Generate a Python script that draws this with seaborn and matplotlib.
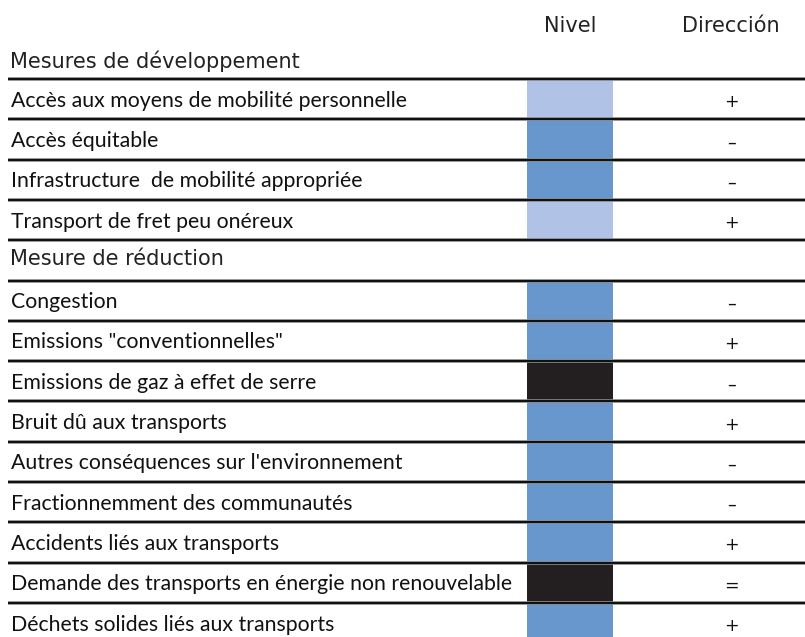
import matplotlib
matplotlib.use('Agg')
import matplotlib.pyplot as plt
import seaborn as sns

sns.set_theme(style='white')
plt.rcParams['font.family'] = ['DejaVu Sans']

# table content
section_1 = 'Mesures de développement'
section_2 = 'Mesure de réduction'
items_1 = ['Accès aux moyens de mobilité personnelle',
           'Accès équitable',
           'Infrastructure  de mobilité appropriée',
           'Transport de fret peu onéreux']
items_2 = ['Congestion',
           'Emissions "conventionnelles"',
           'Emissions de gaz à effet de serre',
           'Bruit dû aux transports',
           "Autres conséquences sur l'environnement",
           'Fractionnemment des communautés',
           'Accidents liés aux transports',
           'Demande des transports en énergie non renouvelable',
           'Déchets solides liés aux transports']
nivel_1 = ['faible', 'moyen', 'moyen', 'faible']
nivel_2 = ['moyen', 'moyen', 'fort', 'moyen', 'moyen', 'moyen', 'moyen', 'fort', 'moyen']
dir_1 = ['+', '–', '–', '+']
dir_2 = ['–', '+', '–', '+', '–', '–', '+', '=', '+']
col_headers = ['Nivel', 'Dirección']

nivel_colors = {'faible': '#B0C3E6', 'moyen': '#6897CE', 'fort': '#231F20'}

# body rows: first block, then second section header, then second block
rows = [(t, n, d) for t, n, d in zip(items_1, nivel_1, dir_1)]
rows.append((section_2, None, None))
rows += [(t, n, d) for t, n, d in zip(items_2, nivel_2, dir_2)]

W, H = 805, 637
fig = plt.figure(figsize=(W / 100, H / 100), dpi=100)
ax = fig.add_axes([0, 0, 1, 1])
ax.set_xlim(0, W)
ax.set_ylim(H, 0)
ax.axis('off')

top = 79
row_h = 40.3
x_left = 8
nivel_x, nivel_w = 527, 86
dir_x = 731
head_fs = 15

# column headers and first section title
ax.text(nivel_x + nivel_w / 2, 26, col_headers[0], ha='center', va='center', fontsize=head_fs, color='#222')
ax.text(dir_x, 26, col_headers[1], ha='center', va='center', fontsize=head_fs, color='#222')
ax.text(x_left + 2, 61, section_1, ha='left', va='center', fontsize=head_fs, color='#222')

centers = [top + (i + 0.5) * row_h for i in range(len(rows))]
cell_y = [c for c, r in zip(centers, rows) if r[1] is not None]
cell_c = [nivel_colors[r[1]] for r in rows if r[1] is not None]
ax.barh(cell_y, nivel_w, left=nivel_x, height=row_h, color=cell_c, linewidth=0, zorder=1)

for c, (label, niv, d) in zip(centers, rows):
    if niv is None:
        ax.text(x_left + 2, c - 1, label, ha='left', va='center', fontsize=head_fs, color='#222')
    else:
        ax.text(x_left + 3, c + 1.5, label, ha='left', va='center', fontsize=15.3,
                family='Lato', color='#111')
        ax.text(dir_x, c + 3, d, ha='center', va='center', fontsize=12.5, color='#111')

for i in range(len(rows) + 1):
    y = top + i * row_h
    ax.plot([x_left, W], [y, y], color='#9a9a9a', lw=2.6, solid_capstyle='butt', zorder=2)
    ax.plot([x_left, W], [y, y], color='#111111', lw=1.6, solid_capstyle='butt', zorder=3)

fig.savefig('out.png', dpi=100)
